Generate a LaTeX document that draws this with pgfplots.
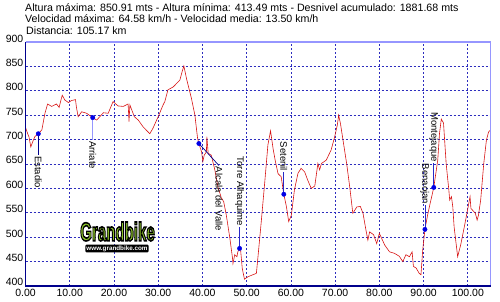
\documentclass[border=0pt]{standalone}
\usepackage{pgfplots}
\pgfplotsset{compat=1.18}
\usepackage{fontspec}
\setmainfont{Liberation Sans}
\definecolor{navy}{RGB}{0,0,140}
\definecolor{gridblue}{RGB}{45,45,190}
\definecolor{lavender}{RGB}{150,150,255}
\definecolor{profred}{RGB}{215,20,20}
\definecolor{markblue}{RGB}{0,0,230}
\definecolor{pinblue}{RGB}{40,40,200}
\definecolor{logogreen}{RGB}{140,198,40}
\newcommand{\lbl}{\fontsize{9.5}{10}\selectfont}
\begin{document}
\begin{tikzpicture}
\begin{axis}[
  at={(25.5pt,16pt)}, anchor=south west,
  scale only axis, width=465.2pt, height=244pt,
  xmin=0, xmax=105.17, ymin=400, ymax=900,
  xtick={0,10,...,100}, ytick={400,450,...,900},
  xticklabels={0.00,10.00,20.00,30.00,40.00,50.00,60.00,70.00,80.00,90.00,100.00},
  yticklabels={400,450,500,550,600,650,700,750,800,850,900},
  major tick length=0pt,
  tick label style={font=\fontsize{10.5}{12}\selectfont},
  yticklabel style={anchor=base east, inner sep=2pt},
  xticklabel style={anchor=north, inner sep=2.5pt},
  grid=major,
  major grid style={dash pattern=on 2pt off 2pt, color=gridblue, line width=0.7pt},
  axis line style={draw=none},
  clip=false,
]
\addplot[profred, line width=0.6pt] coordinates {
(0.0,725) (0.5,712) (0.8,705) (1.2,685) (1.6,695) (2.1,706) (2.9,712) (3.7,720)
(4.4,754) (5.0,773) (5.9,768) (7.0,773) (7.6,766) (8.3,791) (8.9,781) (9.7,776)
(10.4,780) (11.3,782) (11.5,767) (11.9,747) (12.7,757) (13.8,754) (15.2,745) (16.1,740)
(17.6,755) (18.7,754) (19.8,778) (20.9,769) (22.1,768) (23.2,773) (23.4,737) (23.6,771)
(24.6,747) (25.5,740) (26.6,726) (28.1,712) (28.8,723) (30.0,747) (31.1,771) (31.5,778)
(32.2,802) (33.4,808) (34.9,822) (35.4,839) (35.8,851) (36.4,825) (37.5,785) (38.3,750)
(38.6,726) (38.9,703) (39.2,692) (39.8,675) (40.1,655) (40.4,668) (40.9,675) (41.0,706)
(41.3,672) (42.0,668) (42.8,638) (43.5,603) (44.3,580) (44.8,573) (45.4,545) (46.2,498)
(46.8,457) (46.9,446) (47.3,464) (47.8,460) (48.0,470) (48.4,477) (48.6,477) (49.0,436)
(49.5,414) (50.3,419) (51.4,423) (52.2,426) (52.6,464) (53.3,532) (54.1,614) (54.8,689)
(55.4,718) (56.0,680) (56.5,655) (57.1,630) (57.8,624) (58.4,588) (59.0,562) (59.5,532)
(60.1,545) (60.8,597) (61.6,631) (62.3,641) (63.1,634) (63.8,617) (64.6,600) (65.4,605)
(66.1,651) (66.5,638) (66.9,651) (68.0,658) (69.1,679) (69.9,706) (70.5,730) (70.8,750)
(71.2,733) (71.9,692) (72.6,651) (73.3,603) (74.0,549) (74.9,562) (75.7,563) (76.3,549)
(76.9,518) (77.4,494) (77.8,511) (78.7,505) (79.4,487) (80.0,508) (81.2,484) (82.3,470)
(83.4,467) (84.5,461) (85.3,450) (86.0,464) (86.8,460) (87.4,470) (87.7,440) (88.3,437)
(89.0,426) (89.4,423) (89.8,474) (90.3,516) (90.9,545) (91.3,562) (92.3,602) (93.2,658)
(93.6,713) (94.0,742) (94.5,734) (95.1,651) (95.7,597) (95.9,576) (96.3,583) (96.6,562)
(96.9,521) (97.7,460) (98.4,485) (99.2,521) (100.0,559) (100.5,583) (100.7,559) (101.7,549)
(102.1,535) (102.4,545) (102.9,576) (103.6,651) (104.2,699) (104.7,716) (105.17,720)
};
% pins
\draw[navy, line width=0.7pt] (axis cs:2.9,712) -- ([yshift=-21pt]axis cs:2.9,712) node[rotate=-90, anchor=west, inner sep=1pt, font=\lbl, text=black] {Estadio};
\draw[lavender, line width=1pt] (axis cs:15.2,745) -- ([yshift=-22pt]axis cs:15.2,745) node[rotate=-90, anchor=west, inner sep=1pt, font=\lbl, text=black] {Arriate};
\draw[navy, line width=0.7pt] (axis cs:39.2,692) -- ([xshift=20pt,yshift=-22pt]axis cs:39.2,692) node[rotate=-90, anchor=west, inner sep=1pt, font=\lbl, text=black] {Alcala del Valle};
\draw[pinblue, line width=0.7pt] (axis cs:48.4,477) -- ([yshift=21pt]axis cs:48.4,477) node[rotate=-90, anchor=east, inner sep=1pt, font=\lbl, text=black] {Torre Alhaquime};
\draw[pinblue, line width=0.7pt] (axis cs:58.4,588) -- ([yshift=22pt]axis cs:58.4,588) node[rotate=-90, anchor=east, inner sep=1pt, font=\lbl, text=black] {Setenil};
\draw[pinblue, line width=0.7pt] (axis cs:90.3,516) -- ([yshift=24pt]axis cs:90.3,516) node[rotate=-90, anchor=east, inner sep=1pt, font=\lbl, text=black] {Benaojan};
\draw[pinblue, line width=0.7pt] (axis cs:92.3,602) -- ([yshift=24pt]axis cs:92.3,602) node[rotate=-90, anchor=east, inner sep=1pt, font=\lbl, text=black] {Montejaque};
\addplot[only marks, mark=*, mark size=2.2pt, color=markblue] coordinates {
(2.9,712) (15.2,745) (39.2,692) (48.4,477) (58.4,588) (90.3,516) (92.3,602)
};
% frame
\draw[lavender, line width=1.2pt] (rel axis cs:0,1) -- (rel axis cs:1,1) -- (rel axis cs:1,0);
\draw[navy, line width=1.2pt] (rel axis cs:0,1) -- (rel axis cs:0,0) -- (rel axis cs:1,0);
\end{axis}
% header
\begin{scope}[every node/.style={anchor=base west, inner sep=0pt, font=\fontsize{10.65}{12}\selectfont}]
\node at (25pt,290.5pt) {Altura máxima: 850.91 mts - Altura mínima: 413.49 mts - Desnivel acumulado: 1881.68 mts};
\node at (25pt,279pt) {Velocidad máxima: 64.58 km/h - Velocidad media: 13.50 km/h};
\node at (26pt,267pt) {Distancia: 105.17 km};
\end{scope}
% logo
\node[font=\bfseries\fontsize{26}{26}\selectfont, text=logogreen, xscale=0.58, inner sep=0pt] at (117.5pt,70.5pt) {\special{pdf:literal direct 2 Tr 0 0 0 RG 1.6 w}Grandbike\special{pdf:literal direct 0 Tr}};
\node[fill=black, text=white, font=\bfseries\fontsize{6.3}{6.3}\selectfont, inner sep=1pt, rounded corners=1pt] at (117pt,53.5pt) {www.grandbike.com};
\pgfresetboundingbox
\path[use as bounding box] (0,0) rectangle (500pt,302pt);
\end{tikzpicture}
\end{document}
